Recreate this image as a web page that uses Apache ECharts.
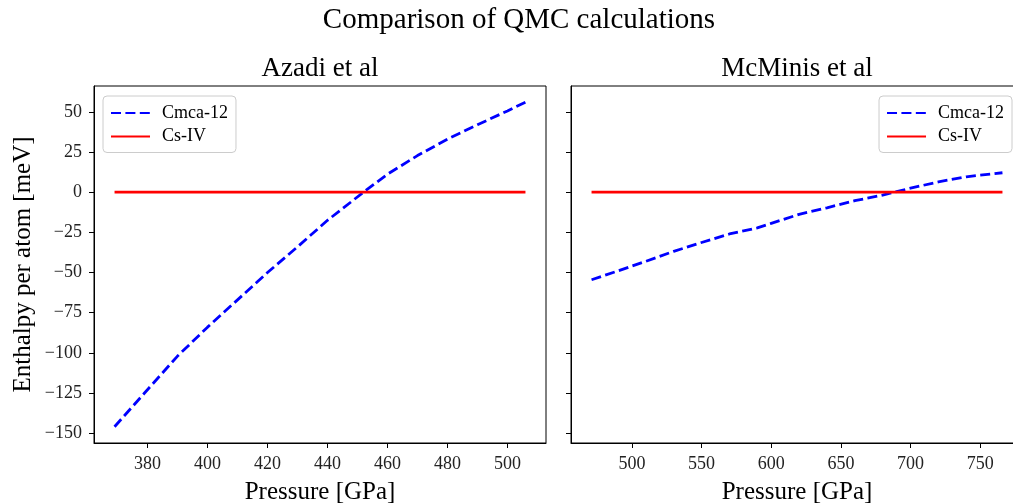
<!DOCTYPE html>
<html>
<head>
<meta charset="utf-8">
<script src="https://cdn.jsdelivr.net/npm/echarts@6/dist/echarts.min.js"></script>
<style>
  html, body { margin: 0; padding: 0; background: #fff; }
  #chart { width: 1013px; height: 504px; }
</style>
</head>
<body>
<div id="chart"></div>
<script>
// Enthalpy of Cmca-12 relative to Cs-IV, two QMC data sets
const azadiPressure = [369, 379, 390, 400, 410, 420, 430, 440, 452, 460, 470, 480, 490, 500, 506];
const azadiCmca = [-146, -125, -102, -84, -67, -50, -34, -17.5, 0, 11.2, 22.8, 33, 42, 50.6, 56];
const azadiCsIV = [0, 0];
const azadiCsIVPressure = [369, 506];

const mcminisPressure = [471, 490, 510, 530, 550, 570, 590, 600, 620, 640, 660, 680, 700, 720, 740, 766];
const mcminisCmca = [-54.5, -49, -43, -36.8, -31.3, -26, -22.2, -19.4, -13.8, -9.7, -5.3, -1.8, 2.5, 6.4, 9.6, 12.1];
const mcminisCsIV = [0, 0];
const mcminisCsIVPressure = [471, 766];

const yTicks = [-150, -125, -100, -75, -50, -25, 0, 25, 50];
const azadiXTicks = [380, 400, 420, 440, 460, 480, 500];
const mcminisXTicks = [500, 550, 600, 650, 700, 750];

const seriesNames = ['Cmca-12', 'Cs-IV'];

const FONT = '"Liberation Serif", "Times New Roman", serif';
const pairs = (xs, ys) => xs.map((x, i) => [x, ys[i]]);
const minus = v => String(v).replace('-', '\u2212');

const chart = echarts.init(document.getElementById('chart'), null, { renderer: 'canvas' });

function xAxis(gridIndex, min, max, ticks) {
  return {
    type: 'value', gridIndex, min, max,
    name: 'Pressure [GPa]', nameLocation: 'middle', nameGap: 37,
    nameTextStyle: { fontFamily: FONT, fontSize: 25, color: '#000' },
    axisLine: { show: true, onZero: false, lineStyle: { color: '#000', width: 1 } },
    axisTick: { show: true, inside: false, length: 5, customValues: ticks, lineStyle: { color: '#000' } },
    axisLabel: { show: true, customValues: ticks, margin: 12, fontFamily: FONT, fontSize: 18, color: '#222' },
    splitLine: { show: false }
  };
}

function yAxis(gridIndex, showLabels) {
  return {
    type: 'value', gridIndex, min: -156.1, max: 66.1,
    name: showLabels ? 'Enthalpy per atom [meV]' : '',
    nameLocation: 'middle', nameGap: 58,
    nameTextStyle: { fontFamily: FONT, fontSize: 25, color: '#000' },
    axisLine: { show: true, onZero: false, lineStyle: { color: '#000', width: 1 } },
    axisTick: { show: true, inside: false, length: 5, customValues: yTicks, lineStyle: { color: '#000' } },
    axisLabel: { show: showLabels, customValues: yTicks, margin: 12, fontFamily: FONT, fontSize: 18, color: '#222', formatter: minus },
    splitLine: { show: false }
  };
}

const legendBase = {
  orient: 'vertical',
  top: 96,
  data: seriesNames,
  itemWidth: 39,
  itemHeight: 14,
  itemGap: 5.5,
  padding: [8, 8, 7, 7],
  borderColor: '#cccccc',
  borderWidth: 1,
  borderRadius: 4,
  backgroundColor: 'rgba(255,255,255,0.8)',
  selectedMode: false,
  itemStyle: { opacity: 0 },
  textStyle: { fontFamily: FONT, fontSize: 18, color: '#000', padding: [0, 0, 0, 7] }
};

const dashed = { color: '#0000ff', width: 2.8, type: [10, 4.4] };
const solid = { color: '#ff0000', width: 2.8, type: 'solid' };

chart.setOption({
  animation: false,
  backgroundColor: '#fff',
  title: [
    { text: 'Comparison of QMC calculations', left: 519, textAlign: 'center', top: 6, padding: 0,
      textStyle: { fontFamily: FONT, fontSize: 29, fontWeight: 'normal', color: '#000' } },
    { text: 'Azadi et al', left: 320, textAlign: 'center', top: 55, padding: 0,
      textStyle: { fontFamily: FONT, fontSize: 27, fontWeight: 'normal', color: '#000' } },
    { text: 'McMinis et al', left: 797, textAlign: 'center', top: 55, padding: 0,
      textStyle: { fontFamily: FONT, fontSize: 27, fontWeight: 'normal', color: '#000' } }
  ],
  legend: [
    Object.assign({}, legendBase, { left: 103 }),
    Object.assign({}, legendBase, { right: 1 })
  ],
  grid: [
    { left: 94, top: 86, width: 452, height: 357, outerBoundsMode: 'none', show: true, borderColor: '#000', borderWidth: 1, backgroundColor: 'transparent' },
    { left: 571, top: 86, width: 452, height: 357, outerBoundsMode: 'none', show: true, borderColor: '#000', borderWidth: 1, backgroundColor: 'transparent' }
  ],
  xAxis: [
    xAxis(0, 362.15, 512.85, azadiXTicks),
    xAxis(1, 456.25, 780.75, mcminisXTicks)
  ],
  yAxis: [yAxis(0, true), yAxis(1, false)],
  series: [
    { name: 'Cmca-12', type: 'line', xAxisIndex: 0, yAxisIndex: 0, symbol: 'none', lineStyle: dashed, itemStyle: { color: '#0000ff' },
      data: pairs(azadiPressure, azadiCmca) },
    { name: 'Cs-IV', type: 'line', xAxisIndex: 0, yAxisIndex: 0, symbol: 'none', lineStyle: solid, itemStyle: { color: '#ff0000' },
      data: pairs(azadiCsIVPressure, azadiCsIV) },
    { name: 'Cmca-12', type: 'line', xAxisIndex: 1, yAxisIndex: 1, symbol: 'none', lineStyle: dashed, itemStyle: { color: '#0000ff' },
      data: pairs(mcminisPressure, mcminisCmca) },
    { name: 'Cs-IV', type: 'line', xAxisIndex: 1, yAxisIndex: 1, symbol: 'none', lineStyle: solid, itemStyle: { color: '#ff0000' },
      data: pairs(mcminisCsIVPressure, mcminisCsIV) }
  ]
});
</script>
</body>
</html>
